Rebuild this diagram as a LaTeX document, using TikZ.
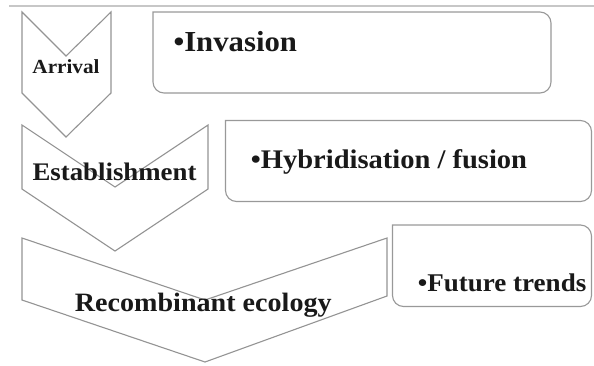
\documentclass[tikz,border=0pt]{standalone}
\usepackage{fontspec}
\setmainfont{Liberation Serif}[FakeStretch=1.06]
\begin{document}
\begin{tikzpicture}[x=1pt,y=-1pt,
  outline/.style={draw=black!42,line width=1.1pt,line join=miter,fill=white},
  panel/.style={draw=black!40,line width=1.1pt,fill=white},
  steplabel/.style={inner sep=0pt,anchor=base,font=\bfseries,text=black!90},
  itemlabel/.style={inner sep=0pt,anchor=base west,font=\bfseries,text=black!90}]
\useasboundingbox (0,0) rectangle (594,365);

% rule along the top
\draw[black!22,line width=1.6pt] (9,6) -- (594,6);

% chevrons of the three stages
\draw[outline] (22,12) -- (66,56) -- (111,12) -- (111,93) -- (66,137) -- (22,93) -- cycle;
\draw[outline] (22,125) -- (115,187) -- (208,125) -- (208,189) -- (115,251) -- (22,189) -- cycle;
\draw[outline] (22,238) -- (205,300) -- (387,238) -- (387,296) -- (205,362) -- (22,300) -- cycle;

% panels, rounded on the right
\draw[panel,rounded corners=11pt] (153,12) -- (551,12) -- (551,93) -- (153,93) [sharp corners] -- cycle;
\draw[panel,rounded corners=11pt] (225.5,120.5) -- (591.5,120.5) -- (591.5,201.5) -- (225.5,201.5) [sharp corners] -- cycle;
\draw[panel,rounded corners=11pt] (392.5,225) -- (591.5,225) -- (591.5,306.5) -- (392.5,306.5) [sharp corners] -- cycle;

% stage labels
\node[steplabel,font=\fontsize{20}{20}\selectfont\bfseries] (arrival) at (66,73.3) {Arrival};
\node[steplabel,font=\fontsize{25.3}{25}\selectfont\bfseries] (establishment) at (114.5,180) {Establishment};
\node[steplabel,font=\fontsize{26.5}{26}\selectfont\bfseries] (recombinant) at (203.3,311.7) {Recombinant ecology};

% panel items
\node[itemlabel,font=\fontsize{29}{29}\selectfont\bfseries] (invasion) at (173.3,51.7) {•Invasion};
\node[itemlabel,font=\fontsize{26.9}{27}\selectfont\bfseries] (hybrid) at (250.7,168.3) {•Hybridisation / fusion};
\node[itemlabel,font=\fontsize{25.5}{26}\selectfont\bfseries] (future) at (417.7,291.7) {•Future trends};
\end{tikzpicture}
\end{document}
